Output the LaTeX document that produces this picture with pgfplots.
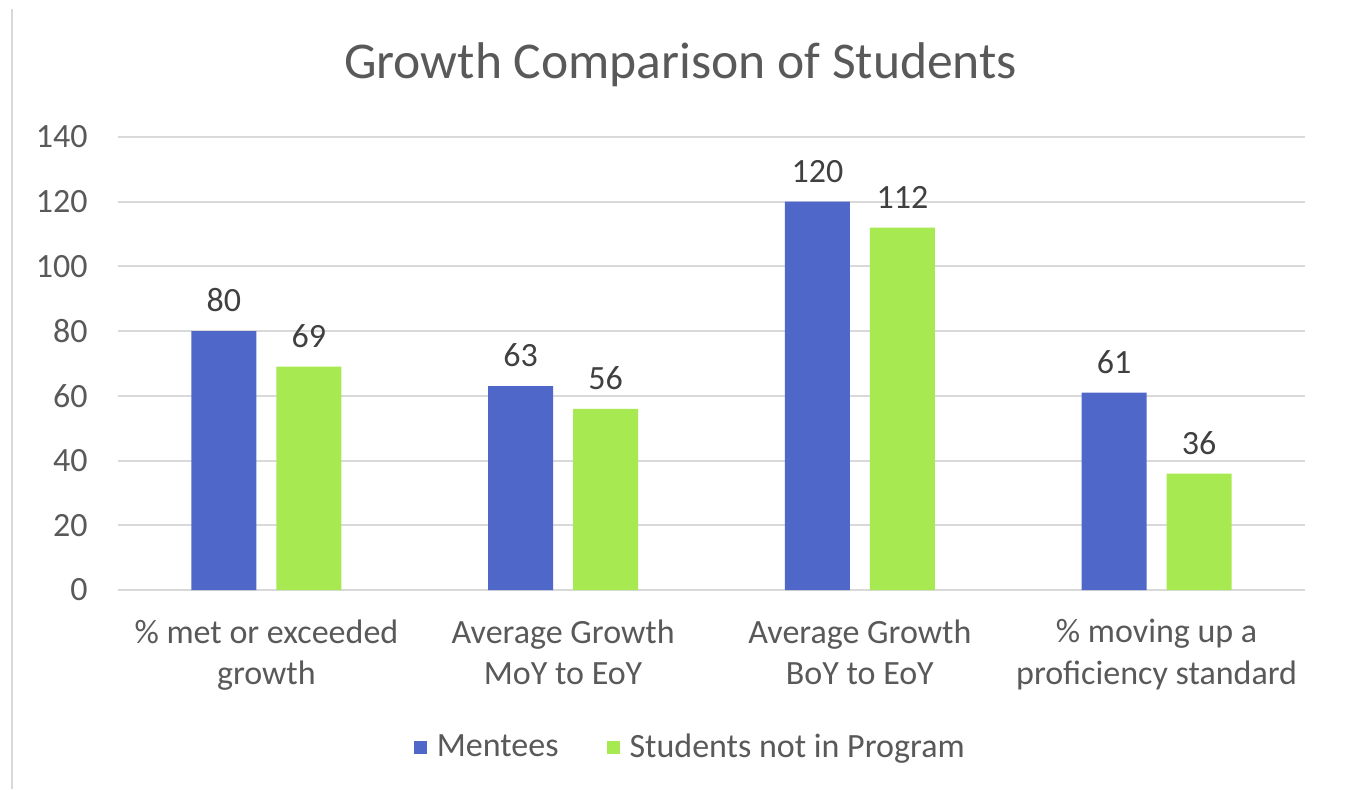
\documentclass[border=0pt]{standalone}
\usepackage{pgfplots}
\pgfplotsset{compat=1.18}
\usepackage{fontspec}
\setmainfont{Carlito}
\definecolor{mentee}{RGB}{79,103,201}
\definecolor{other}{RGB}{167,233,80}
\definecolor{gridgray}{RGB}{217,217,217}
\definecolor{ticktext}{RGB}{89,89,89}
\definecolor{labeltext}{RGB}{64,64,64}
\begin{document}
\begin{tikzpicture}
\path[use as bounding box] (0,0) rectangle (672.5pt,394.5pt);
\draw[gridgray, line width=1.2pt] (6pt,0) -- (6pt,390pt);
\begin{axis}[
    at={(59pt,99.5pt)}, anchor=south west,
    scale only axis,
    width=593.5pt, height=226.5pt,
    ybar=10pt, bar width=32.5pt,
    xmin=-0.5, xmax=3.5,
    ymin=0, ymax=140,
    ytick={0,20,...,140},
    xtick=data,
    xticklabels={{\% met or exceeded\\growth},{Average Growth\\MoY to EoY},{Average Growth\\BoY to EoY},{\% moving up a\\proficiency standard}},
    axis line style={draw=none},
    tick style={draw=none},
    ymajorgrids, grid style={gridgray, line width=1pt},
    font=\fontsize{17}{20.5}\selectfont,
    /pgf/number format/assume math mode=true,
    yticklabel style={inner sep=0pt, xshift=-15pt, text=ticktext},
    xticklabel style={align=center, text=ticktext, yshift=-7pt},
    title={Growth Comparison of Students},
    title style={at={(0.474,1.132)}, anchor=center, font=\fontsize{25.8}{30}\selectfont, text=ticktext},
    nodes near coords,
    nodes near coords style={text=labeltext, font=\fontsize{17}{20}\selectfont, yshift=6pt},
    legend style={at={(0.483,-0.347)}, anchor=center, draw=none, legend columns=-1,
        font=\fontsize{17}{20}\selectfont, text=ticktext,
        /tikz/every odd column/.append style={column sep=3pt},
        /tikz/every even column/.append style={column sep=22pt}},
    legend image code/.code={\fill[#1] (0pt,-3.25pt) rectangle (6.5pt,3.25pt);},
]
\addplot[fill=mentee, draw=none] coordinates {(0,80) (1,63) (2,120) (3,61)};
\addlegendentry{Mentees}
\addplot[fill=other, draw=none] coordinates {(0,69) (1,56) (2,112) (3,36)};
\addlegendentry{Students not in Program}
\end{axis}
\end{tikzpicture}
\end{document}
